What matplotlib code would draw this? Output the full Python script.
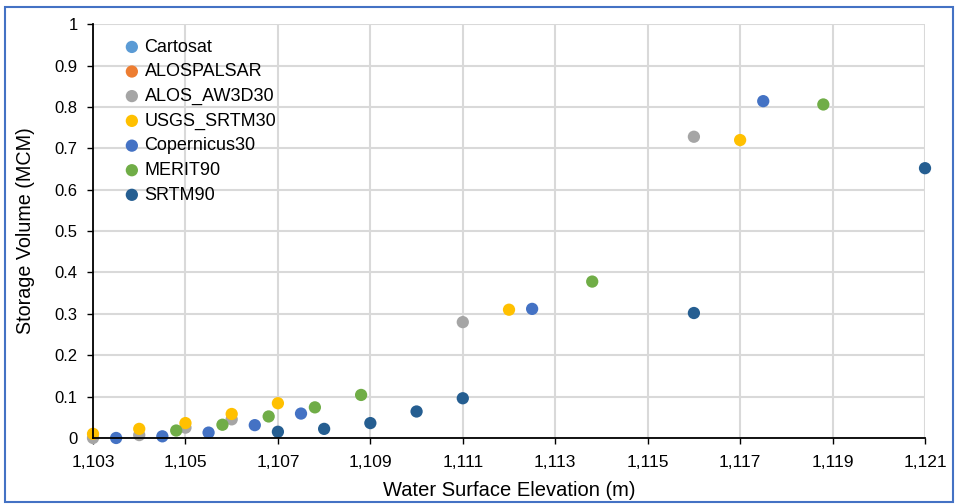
import matplotlib
matplotlib.use('Agg')
from matplotlib import pyplot as plt
from matplotlib.patches import Rectangle
from matplotlib.ticker import FuncFormatter

plt.rcParams['font.family'] = ['Liberation Sans', 'DejaVu Sans']

names = ['Cartosat', 'ALOSPALSAR', 'ALOS_AW3D30', 'USGS_SRTM30',
         'Copernicus30', 'MERIT90', 'SRTM90']
colors = ['#5B9BD5', '#ED7D31', '#A5A5A5', '#FFC000',
          '#4472C4', '#70AD47', '#255E91']

cartosat_x, cartosat_y = [], []
alospalsar_x, alospalsar_y = [], []
aw3d30_x = [1103, 1104, 1105, 1106, 1111, 1116]
aw3d30_y = [0.0, 0.007, 0.025, 0.045, 0.28, 0.728]
srtm30_x = [1103, 1104, 1105, 1106, 1107, 1112, 1117]
srtm30_y = [0.01, 0.022, 0.036, 0.058, 0.084, 0.31, 0.72]
cop30_x = [1103.5, 1104.5, 1105.5, 1106.5, 1107.5, 1112.5, 1117.5]
cop30_y = [0.0, 0.004, 0.013, 0.031, 0.059, 0.312, 0.814]
merit_x = [1104.8, 1105.8, 1106.8, 1107.8, 1108.8, 1113.8, 1118.8]
merit_y = [0.018, 0.032, 0.052, 0.074, 0.104, 0.378, 0.806]
srtm90_x = [1107, 1108, 1109, 1110, 1111, 1116, 1121]
srtm90_y = [0.015, 0.022, 0.036, 0.064, 0.096, 0.302, 0.652]

xs = [cartosat_x, alospalsar_x, aw3d30_x, srtm30_x, cop30_x, merit_x, srtm90_x]
ys = [cartosat_y, alospalsar_y, aw3d30_y, srtm30_y, cop30_y, merit_y, srtm90_y]

fig = plt.figure(figsize=(9.55, 5.04), dpi=100)
ax = fig.add_axes([0.0974, 0.131, 0.8712, 0.821])

for n, c, x, y in zip(names, colors, xs, ys):
    ax.scatter(x, y, s=78, color=c, label=n, edgecolors='none', zorder=3,
               clip_on=(len(x) == 0))

ax.set_xlim(1103, 1121)
ax.set_ylim(0, 1)
ax.set_xticks(range(1103, 1122, 2))
ax.set_yticks([i / 10 for i in range(11)])
ax.xaxis.set_major_formatter(FuncFormatter(lambda v, p: f'{int(v):,}'))
ax.yaxis.set_major_formatter(FuncFormatter(lambda v, p: '0' if v == 0 else ('1' if v == 1 else f'{v:.1f}')))
ax.grid(True, color='#D9D9D9', linewidth=1.5)
ax.set_axisbelow(True)
for s in ['top', 'right']:
    ax.spines[s].set_visible(False)
for s in ['left', 'bottom']:
    ax.spines[s].set_color('black')
    ax.spines[s].set_linewidth(1.3)
    ax.spines[s].set_zorder(4)
ax.tick_params(axis='y', length=4, width=1, labelsize=12, colors='black', pad=7)
ax.tick_params(axis='x', length=4, width=1, labelsize=12.5, colors='black', pad=8)

ax.set_xlabel('Water Surface Elevation (m)', fontsize=14.5, labelpad=8)
ax.set_ylabel('Storage Volume (MCM)', fontsize=14.2, labelpad=14)

leg = ax.legend(loc='upper left', bbox_to_anchor=(0.038, 0.965), frameon=False,
                fontsize=13, handlelength=0.8, handletextpad=0.3, labelspacing=0.42,
                borderpad=0, borderaxespad=0)

fig.patches.append(Rectangle((0.005, 0.003), 0.993, 0.983, transform=fig.transFigure,
                             fill=False, edgecolor='#4472C4', linewidth=1.5))

fig.savefig('out.png', dpi=100)
